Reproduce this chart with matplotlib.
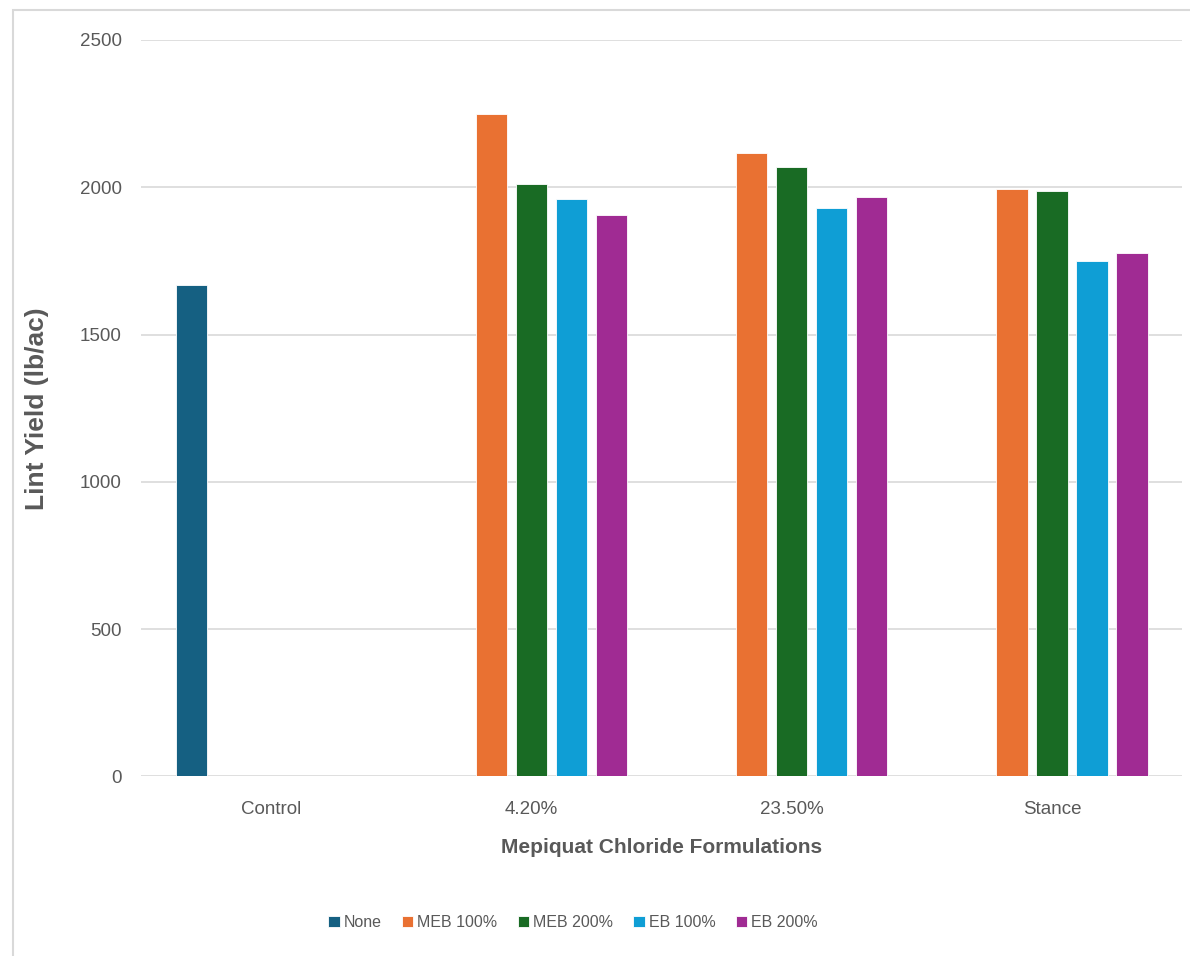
import numpy as np
import matplotlib.pyplot as plt
from matplotlib.patches import Rectangle

plt.rcParams['font.family'] = ['Liberation Sans', 'DejaVu Sans']

categories = ['Control', '4.20%', '23.50%', 'Stance']
series = ['None', 'MEB 100%', 'MEB 200%', 'EB 100%', 'EB 200%']
colors = ['#156082', '#E97132', '#196B24', '#0F9ED5', '#A02B93']

# lint yield per formulation; None = no bar in that group
none_vals = [1669, None, None, None]
meb100 = [None, 2249, 2117, 1994]
meb200 = [None, 2012, 2069, 1986]
eb100 = [None, 1961, 1930, 1750]
eb200 = [None, 1907, 1968, 1776]
values = [none_vals, meb100, meb200, eb100, eb200]

fig = plt.figure(figsize=(11.9, 9.56), dpi=100)
ax = fig.add_axes([0.1185, 0.1878, 0.8748, 0.7704])

# chart border
fig.patches.append(Rectangle((13 / 1190, -0.1), 1.2, 1 - 10 / 956 + 0.1,
                             transform=fig.transFigure, fill=False,
                             edgecolor='#d9d9d9', linewidth=1.5))

x = np.arange(len(categories))
slot = 0.1537
width = 0.12
for i, (name, vals) in enumerate(zip(series, values)):
    xs = [x[j] + (i - 2) * slot for j, v in enumerate(vals) if v is not None]
    hs = [v for v in vals if v is not None]
    ax.bar(xs, hs, width=width, color=colors[i], label=name,
           edgecolor='#ffffff', linewidth=0.6, zorder=3)

ax.set_xlim(-0.5, 3.5)
ax.set_ylim(0, 2500)
ax.set_yticks(range(0, 2501, 500))
ax.set_xticks(x)
ax.set_xticklabels(categories)
ax.grid(axis='y', color='#d9d9d9', linewidth=1.2, zorder=0)
ax.set_axisbelow(True)
for s in ax.spines.values():
    s.set_visible(False)
ax.tick_params(axis='both', length=0, labelsize=13.5, labelcolor='#595959')
ax.tick_params(axis='y', pad=14)
ax.tick_params(axis='x', pad=18)

ax.set_ylabel('Lint Yield (lb/ac)', fontsize=19, fontweight='bold',
              color='#595959', labelpad=22)
ax.set_xlabel('Mepiquat Chloride Formulations', fontsize=15, fontweight='bold',
              color='#595959', labelpad=14)

fig.legend(loc='center', bbox_to_anchor=(573 / 1190, 1 - 922.7 / 956),
           ncol=5, frameon=False, labelcolor='#595959', fontsize=11.5,
           handlelength=0.72, handleheight=0.72, handletextpad=0.26,
           columnspacing=1.25)

plt.savefig('out.png', dpi=100)
